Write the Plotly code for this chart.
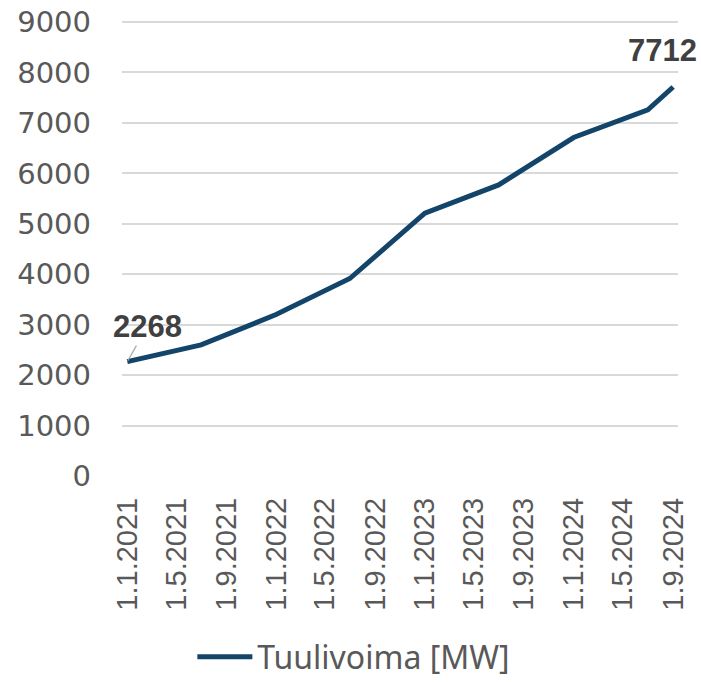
import plotly.graph_objects as go

dates = ["2021-01-01", "2021-07-01", "2022-01-01", "2022-07-01", "2023-01-01",
         "2023-07-01", "2024-01-01", "2024-07-01", "2024-09-01"]
wind_mw = [2268, 2600, 3200, 3915, 5210, 5770, 6710, 7260, 7712]

tick_dates = ["2021-01-01", "2021-05-01", "2021-09-01", "2022-01-01", "2022-05-01",
              "2022-09-01", "2023-01-01", "2023-05-01", "2023-09-01", "2024-01-01",
              "2024-05-01", "2024-09-01"]
tick_text = ["1.1.2021", "1.5.2021", "1.9.2021", "1.1.2022", "1.5.2022", "1.9.2022",
             "1.1.2023", "1.5.2023", "1.9.2023", "1.1.2024", "1.5.2024", "1.9.2024"]
y_ticks = [0, 1000, 2000, 3000, 4000, 5000, 6000, 7000, 8000, 9000]

line_color = "#134469"
grey = "#595959"
label_font = dict(size=31, color="#404040", family="Liberation Sans")

W, H = 701, 682

fig = go.Figure()
fig.add_trace(go.Scatter(x=dates, y=wind_mw, mode="lines", name="Tuulivoima [MW]",
                         line=dict(color=line_color, width=5)))

# data labels for first and last point
fig.add_annotation(x=dates[0], y=wind_mw[0], text="<b>2268</b>", showarrow=True,
                   ax=20, ay=-35, arrowhead=0, arrowwidth=1.2, arrowcolor="#a6a6a6",
                   standoff=1, font=label_font)
fig.add_annotation(x=dates[-1], y=wind_mw[-1], text="<b>7712</b>", showarrow=False,
                   xshift=-11, yshift=36, font=label_font)

# top of the range a little above 9000 so the top gridline is not clipped
fig.update_layout(
    width=W, height=H,
    margin=dict(l=122, r=23, t=20, b=206),
    paper_bgcolor="white", plot_bgcolor="white",
    font=dict(family="Liberation Sans", color=grey),
    showlegend=True,
    legend=dict(orientation="h", x=0.417, xanchor="center", xref="paper",
                y=25 / H, yref="container", yanchor="middle", itemwidth=55,
                font=dict(size=32, family="Noto Sans", color=grey)),
    xaxis=dict(type="date", range=["2020-12-19", "2024-09-13"],
               tickvals=tick_dates, ticktext=tick_text, tickangle=-90,
               showgrid=False, showline=False, zeroline=False, ticks="",
               ticklabelstandoff=15, automargin=False,
               tickfont=dict(size=29, color=grey, family="Liberation Sans")),
    yaxis=dict(range=[0, 9040], tickvals=y_ticks, showgrid=True, gridcolor="#d9d9d9",
               gridwidth=1.5, zeroline=False, showline=False, ticks="",
               ticklabelstandoff=30, automargin=False,
               tickfont=dict(size=29, color=grey, family="DejaVu Sans")),
)

# drop the default 8px body margin so the figure fills the window
fig.write_html("out.html", config={"displayModeBar": False},
               post_script="document.body.style.margin = '0';")
